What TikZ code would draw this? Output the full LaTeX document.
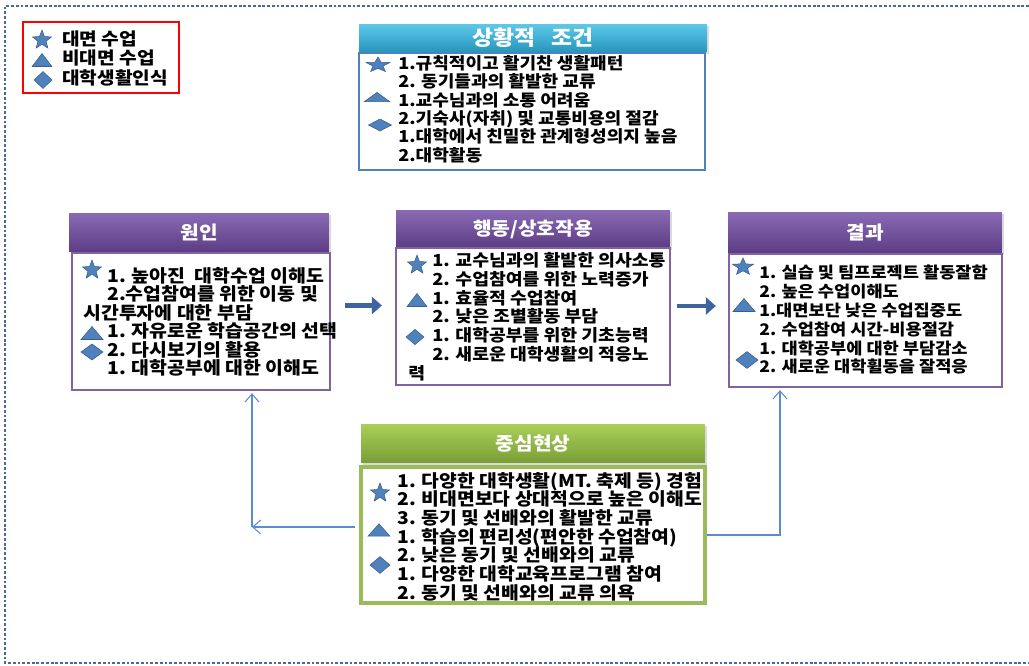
\documentclass[tikz,border=0pt]{standalone}
\usepackage{fontspec}
\setmainfont{Noto Sans CJK KR}[FakeStretch=1.1]
\usetikzlibrary{arrows.meta,shadows}
\lineskiplimit=-\maxdimen

\definecolor{mk}{HTML}{4F81BD}
\definecolor{mkd}{HTML}{385D8A}
\definecolor{ar}{HTML}{3E64A0}
\definecolor{ln}{HTML}{5B8BD0}
\definecolor{frm}{HTML}{4A6A9A}
\definecolor{sitTop}{HTML}{5DC9EA}
\definecolor{sitBot}{HTML}{2696BC}
\definecolor{purTop}{HTML}{8A6AB4}
\definecolor{purBot}{HTML}{5C3D84}
\definecolor{grnTop}{HTML}{A9CF5A}
\definecolor{grnBot}{HTML}{7A9E36}
\definecolor{purLn}{HTML}{8064A2}
\definecolor{grnLn}{HTML}{9BBB59}

\newcommand{\ind}{\hspace*{0.48cm}}

\tikzset{
  mstar/.pic={\fill[mk, draw=mkd, line width=0.3pt] (90:0.2cm)
    \foreach \a in {0,72,...,288}{ -- (90+\a:0.2cm) -- (126+\a:0.085cm)} -- cycle;},
  mtri/.pic={\fill[mk, draw=mkd, line width=0.3pt] (-0.22cm,-0.13cm) -- (0.22cm,-0.13cm) -- (0,0.13cm) -- cycle;},
  mdia/.pic={\fill[mk, draw=mkd, line width=0.3pt] (-0.21cm,0) -- (0,0.16cm) -- (0.21cm,0) -- (0,-0.16cm) -- cycle;}
}

\begin{document}
\begin{tikzpicture}[x=0.02cm,y=-0.02cm,
  hdr/.style={rectangle, inner sep=0, text=white, font=\bfseries\fontsize{10.5}{12}\selectfont,
    drop shadow={opacity=0.3, shadow xshift=0.04cm, shadow yshift=-0.04cm}},
  box/.style={rectangle, fill=white, line width=1.3pt, inner sep=0},
  txt/.style={anchor=north west, inner sep=0, align=left},
  flow/.style={draw=ar, line width=2.3pt, -{Triangle[length=2mm,width=3.4mm]}},
  link/.style={draw=ln, line width=0.6pt, -{Straight Barb[length=1.6mm,width=2.8mm]}}]
\useasboundingbox (0,0) rectangle (1029,666);

% outer frame, open on the right
\draw[frm, line width=1.3pt, dash pattern=on 1.6pt off 1.1pt] (1029,6) -- (5,6) -- (5,663) -- (1029,663);

% legend
\node[draw=red, line width=1.3pt, minimum width=3.12cm, minimum height=1.42cm] (legend) at (101,57.5) {};
\pic at (42,40) {mstar};
\pic[xscale=0.9, yscale=1.0] at (42,60) {mtri};
\pic[xscale=0.85, yscale=1.05] at (43,80) {mdia};
\node[anchor=west, inner sep=0, font=\bfseries\fontsize{9.9}{12}\selectfont] (lgA) at (62,39) {대면 수업};
\node[anchor=west, inner sep=0, font=\bfseries\fontsize{9.9}{12}\selectfont] (lgB) at (62,58) {비대면 수업};
\node[anchor=west, inner sep=0, font=\bfseries\fontsize{9.9}{12}\selectfont] (lgC) at (62,78) {대학생활인식};

% situational conditions
\node[hdr, top color=sitTop, bottom color=sitBot, minimum width=6.96cm, minimum height=0.56cm,
  font=\bfseries\fontsize{11.8}{14}\selectfont] (sitH) at (533,38) {상황적~~~조건};
\node[box, draw=mk, minimum width=6.92cm, minimum height=2.34cm] (sitB) at (532,111.5) {};
\node[txt, font=\bfseries\fontsize{9.35}{10.45}\selectfont] (sitT) at (398,55)
  {1.규칙적이고 활기찬 생활패턴\\
   2. 동기들과의 활발한 교류\\
   1.교수님과의 소통 어려움\\
   2.기숙사(자취) 및 교통비용의 절감\\
   1.대학에서 친밀한 관계형성의지 높음\\
   2.대학활동};
\pic[xscale=1.25, yscale=0.8] at (378,65) {mstar};
\pic[xscale=1.15, yscale=0.7] at (377,97) {mtri};
\pic[xscale=1.1, yscale=0.75] at (380,125) {mdia};

% cause
\node[hdr, top color=purTop, bottom color=purBot, minimum width=5.2cm, minimum height=0.78cm] (wonH) at (199,232.5) {원인};
\node[box, draw=purLn, minimum width=5.16cm, minimum height=2.74cm] (wonB) at (201,321.5) {};
\node[txt, font=\bfseries\fontsize{10.05}{10.5}\selectfont] (wonT) at (83,267)
  {\ind1. 높아진~~대학수업 이해도\\
   \ind2.수업참여를 위한 이동 및\\
   시간투자에 대한 부담\\
   \ind1. 자유로운 학습공간의 선택\\
   \ind2. 다시보기의 활용\\
   \ind1. 대학공부에 대한 이해도};
\pic at (92,270) {mstar};
\pic[yscale=1.0] at (92,333) {mtri};
\pic[xscale=1.05] at (92,352) {mdia};

% action / interaction
\node[hdr, top color=purTop, bottom color=purBot, minimum width=5.48cm, minimum height=0.76cm] (actH) at (533,229) {행동/상호작용};
\node[box, draw=purLn, minimum width=5.48cm, minimum height=2.74cm] (actB) at (533,316.5) {};
\node[txt, font=\bfseries\fontsize{9.45}{10.7}\selectfont] (actT) at (408,252)
  {\ind1. 교수님과의 활발한 의사소통\\
   \ind2. 수업참여를 위한 노력증가\\
   \ind1. 효율적 수업참여\\
   \ind2. 낮은 조별활동 부담\\
   \ind1. 대학공부를 위한 기초능력\\
   \ind2. 새로운 대학생활의 적응노\\
   력};
\pic at (417,265) {mstar};
\pic[xscale=0.9] at (417,300) {mtri};
\pic[xscale=0.85, yscale=0.95] at (415,337) {mdia};

% result
\node[hdr, top color=purTop, bottom color=purBot, minimum width=5.48cm, minimum height=0.82cm] (resH) at (865,232.5) {결과};
\node[box, draw=purLn, minimum width=5.46cm, minimum height=2.66cm] (resB) at (865.5,320.5) {};
\node[txt, font=\bfseries\fontsize{9.1}{10.7}\selectfont] (resT) at (759,265)
  {1. 실습 및 팀프로젝트 활동잘함\\
   2. 높은 수업이해도\\
   1.대면보단 낮은 수업집중도\\
   2. 수업참여 시간-비용절감\\
   1. 대학공부에 대한 부담감소\\
   2. 새로운 대학휠동을 잘적응};
\pic[xscale=1.1, yscale=0.9] at (743,267) {mstar};
\pic at (744,305) {mtri};
\pic[xscale=1.05, yscale=1.05] at (747,360) {mdia};

% central phenomenon
\node[hdr, top color=grnTop, bottom color=grnBot, minimum width=6.88cm, minimum height=0.78cm] (ctrH) at (533,443.5) {중심현상};
\node[box, draw=grnLn, line width=1.8pt, minimum width=6.88cm, minimum height=2.72cm] (ctrB) at (533,535) {};
\node[txt, font=\bfseries\fontsize{10}{10.6}\selectfont] (ctrT) at (397,472)
  {1. 다양한 대학생활(MT. 축제 등) 경험\\
   2. 비대면보다 상대적으로 높은 이해도\\
   3. 동기 및 선배와의 활발한 교류\\
   1. 학습의 편리성(편안한 수업참여)\\
   2. 낮은 동기 및 선배와의 교류\\
   1. 다양한 대학교육프로그램 참여\\
   2. 동기 및 선배와의 교류 의욕};
\pic at (380,493) {mstar};
\pic[yscale=0.95] at (379,530) {mtri};
\pic[xscale=0.95, yscale=1.05] at (380,565) {mdia};

% connectors
\draw[flow, shorten <=0.28cm, shorten >=0.26cm] ([yshift=0.32cm]wonB.east) -- ([yshift=0.32cm]wonB.east -| actB.west);
\draw[flow, shorten <=0.12cm, shorten >=0.24cm] ([yshift=0.21cm]actB.east) -- ([yshift=0.21cm]actB.east -| resB.west);

\coordinate (cl) at (252,527);
\coordinate (cr) at (780,535);
\draw[link, shorten <=0.08cm] (ctrB.west |- cl) -- (cl);
\draw[link, shorten >=0.04cm] (cl) -- (wonB.south -| cl);
\draw[link, shorten >=0.04cm] (ctrB.east) -- (cr) -- (resB.south -| cr);
\end{tikzpicture}
\end{document}
